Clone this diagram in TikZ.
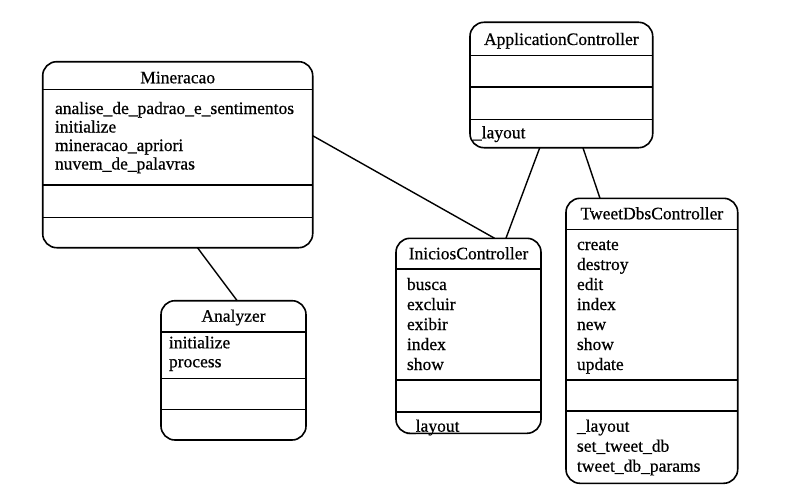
\documentclass[tikz,border=0pt]{standalone}
\usepackage{fontspec}
\setmainfont{Liberation Serif}[FakeBold=0.6]
\begin{document}
\begin{tikzpicture}[x=1pt,y=-1pt,
  classbox/.style={draw, line width=1.6pt, rounded corners=14pt, inner sep=0pt, outer sep=0pt},
  sep/.style={line width=1.6pt},
  link/.style={line width=1.4pt},
  txt/.style={inner sep=0pt, outer sep=0pt, font=\fontsize{17.5}{20}\selectfont, anchor=base west},
  ttl/.style={inner sep=0pt, outer sep=0pt, font=\fontsize{17.5}{20}\selectfont, anchor=base}]
\useasboundingbox[fill=white] (0,0) rectangle (786,495);

% Mineracao
\node[classbox, minimum width=270pt, minimum height=186pt] (mine) at (177.7,154.7) {};
\draw[sep] (mine.west |- 0,89.3) -- (mine.east |- 0,89.3);
\draw[sep] (mine.west |- 0,185) -- (mine.east |- 0,185);
\draw[sep] (mine.west |- 0,217.3) -- (mine.east |- 0,217.3);
\node[ttl] (mine-t) at (177.7,83.3) {Mineracao};
\node[txt] (mine-m1) at (55,114) {analise\_de\_padrao\_e\_sentimentos};
\node[txt] (mine-m2) at (55,132.5) {initialize};
\node[txt] (mine-m3) at (55,151) {mineracao\_apriori};
\node[txt] (mine-m4) at (55,169.5) {nuvem\_de\_palavras};

% ApplicationController
\node[classbox, minimum width=182.7pt, minimum height=125.4pt] (app) at (561.35,85) {};
\draw[sep] (app.west |- 0,55.7) -- (app.east |- 0,55.7);
\draw[sep] (app.west |- 0,86.7) -- (app.east |- 0,86.7);
\draw[sep] (app.west |- 0,119.3) -- (app.east |- 0,119.3);
\node[ttl] (app-t) at (561.35,45) {ApplicationController};
\node[txt] (app-m1) at (473,138.3) {\_layout};

% Analyzer
\node[classbox, minimum width=145pt, minimum height=139.3pt] (ana) at (233.5,370.35) {};
\draw[sep] (ana.west |- 0,331.7) -- (ana.east |- 0,331.7);
\draw[sep] (ana.west |- 0,378.3) -- (ana.east |- 0,378.3);
\draw[sep] (ana.west |- 0,409.3) -- (ana.east |- 0,409.3);
\node[ttl] (ana-t) at (233.5,321.7) {Analyzer};
\node[txt] (ana-m1) at (169,348.3) {initialize};
\node[txt] (ana-m2) at (169,367.3) {process};

% IniciosController
\node[classbox, minimum width=145pt, minimum height=195pt] (ini) at (468.5,335.8) {};
\draw[sep] (ini.west |- 0,269) -- (ini.east |- 0,269);
\draw[sep] (ini.west |- 0,380) -- (ini.east |- 0,380);
\draw[sep] (ini.west |- 0,411.7) -- (ini.east |- 0,411.7);
\node[ttl] (ini-t) at (468.5,259.3) {IniciosController};
\node[txt] (ini-m1) at (407,290) {busca};
\node[txt] (ini-m2) at (407,310) {excluir};
\node[txt] (ini-m3) at (407,330) {exibir};
\node[txt] (ini-m4) at (407,350) {index};
\node[txt] (ini-m5) at (407,370) {show};
\node[txt] (ini-a1) at (407,431.7) {\_layout};

% TweetDbsController
\node[classbox, minimum width=171.7pt, minimum height=285pt] (twt) at (651.85,340.8) {};
\draw[sep] (twt.west |- 0,229.3) -- (twt.east |- 0,229.3);
\draw[sep] (twt.west |- 0,380) -- (twt.east |- 0,380);
\draw[sep] (twt.west |- 0,410.7) -- (twt.east |- 0,410.7);
\node[ttl] (twt-t) at (651.85,219.3) {TweetDbsController};
\node[txt] (twt-m1) at (577,250) {create};
\node[txt] (twt-m2) at (577,270) {destroy};
\node[txt] (twt-m3) at (577,290) {edit};
\node[txt] (twt-m4) at (577,310) {index};
\node[txt] (twt-m5) at (577,330) {new};
\node[txt] (twt-m6) at (577,350) {show};
\node[txt] (twt-m7) at (577,370) {update};
\node[txt] (twt-a1) at (577,431.7) {\_layout};
\node[txt] (twt-a2) at (577,451.7) {set\_tweet\_db};
\node[txt] (twt-a3) at (577,471.7) {tweet\_db\_params};

% associations
\draw[link] (mine.8.9) -- (ini.75.8);
\draw[link] (mine.-78.5) -- (ana.87);
\draw[link] (app.-109) -- (ini.69.3);
\draw[link] (app.-71.6) -- (twt.110);
\end{tikzpicture}
\end{document}
